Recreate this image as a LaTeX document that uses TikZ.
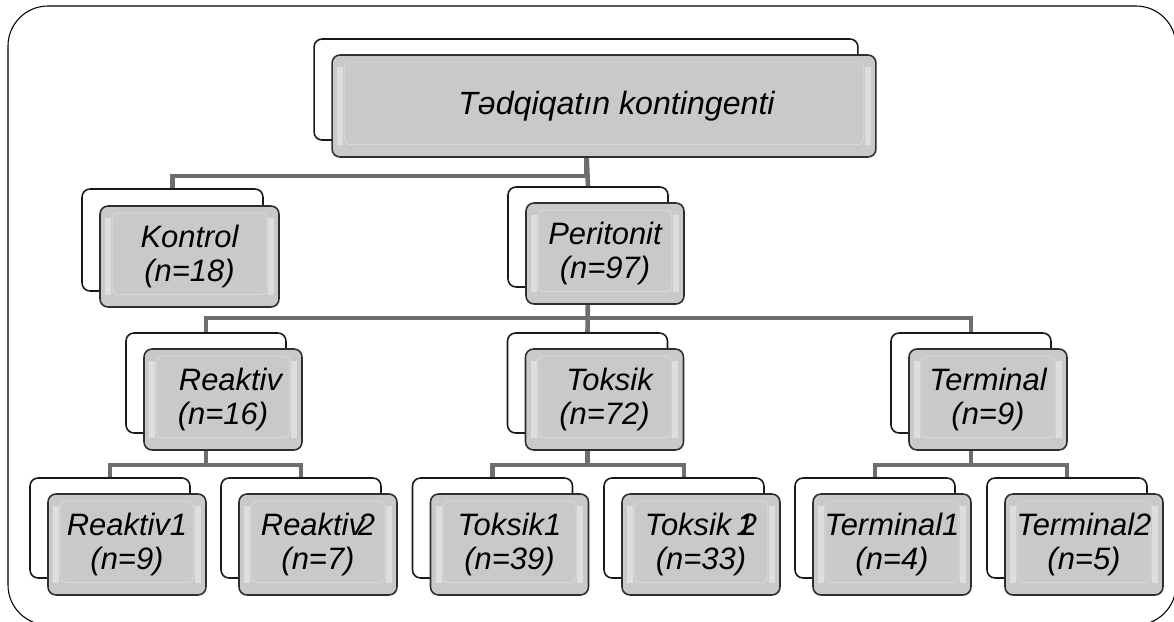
\documentclass[tikz,border=0pt]{standalone}
\usepackage{fontspec}
\setmainfont{Liberation Sans}

\definecolor{boxgray}{HTML}{C9C9C9}
\definecolor{linkgray}{HTML}{6E6E6E}
\definecolor{edgegray}{HTML}{2E2E2E}

\tikzset{
  backbox/.style={draw=black!90, fill=white, line width=0.9pt, rounded corners=0.16cm,
    minimum width=3.2cm, minimum height=2cm, inner sep=0pt},
  frontbox/.style={draw=edgegray, fill=boxgray, line width=0.9pt, rounded corners=0.16cm,
    minimum width=3.16cm, minimum height=2.02cm, inner sep=0pt, align=center,
    font=\fontsize{17.6}{19.8}\selectfont\itshape,
    path picture={
      \fill[white, opacity=.4, sharp corners] ([xshift=3pt,yshift=-7pt]path picture bounding box.north west)
        rectangle ([xshift=6.5pt,yshift=7pt]path picture bounding box.south west);
      \fill[white, opacity=.4, sharp corners] ([xshift=-6.5pt,yshift=-7pt]path picture bounding box.north east)
        rectangle ([xshift=-3pt,yshift=7pt]path picture bounding box.south east);
      \draw[white, opacity=.25, line width=.6pt, rounded corners=3pt] ([xshift=7pt,yshift=-4pt]path picture bounding box.north west)
        rectangle ([xshift=-7pt,yshift=7pt]path picture bounding box.south east);
    }},
  link/.style={draw=linkgray, line width=2.6pt}
}

\begin{document}
\begin{tikzpicture}[x=0.02cm, y=-0.02cm]
\useasboundingbox (0,0) rectangle (1174,622);

% frame
\draw[line width=0.6pt, rounded corners=0.8cm] (8,6) rectangle (1176,625);

% back boxes
\node[backbox, minimum width=10.88cm, minimum height=2.02cm] (topb) at (586,89.5) {}; % Tedqiqat
\node[backbox, minimum width=3.62cm, minimum height=2.04cm] (konb) at (172.5,240) {}; % Kontrol
\node[backbox] (perb) at (588,237) {}; % Peritonit
\node[backbox] (reab) at (206,383) {}; % Reaktiv
\node[backbox] (tokb) at (587.5,383) {}; % Toksik
\node[backbox] (terb) at (971,383) {}; % Terminal
\node[backbox] (rea1b) at (110,528) {};
\node[backbox] (rea2b) at (301,528) {};
\node[backbox] (tok1b) at (492.5,528) {};
\node[backbox] (tok2b) at (684,528) {};
\node[backbox] (ter1b) at (875,528) {};
\node[backbox] (ter2b) at (1067,528) {};

% bus levels
\coordinate (bus1) at (0,176);
\coordinate (bus2) at (0,318);
\coordinate (bus3) at (0,465);

% connectors
\draw[link] (topb.south) -- (topb.south |- bus1) -| (konb.north);
\draw[link] (topb.south) -- (perb.north);
\draw[link] (perb.south) -- (perb.south |- bus2) -| (reab.north);
\draw[link] (perb.south) -- (perb.south |- bus2) -| (terb.north);
\draw[link] (perb.south) -- (tokb.north);
\draw[link] (reab.south) -- (reab.south |- bus3) -| (rea1b.north);
\draw[link] (reab.south) -- (reab.south |- bus3) -| (rea2b.north);
\draw[link] (tokb.south) -- (tokb.south |- bus3) -| (tok1b.north);
\draw[link] (tokb.south) -- (tokb.south |- bus3) -| (tok2b.north);
\draw[link] (terb.south) -- (terb.south |- bus3) -| (ter1b.north);
\draw[link] (terb.south) -- (terb.south |- bus3) -| (ter2b.north);

% front boxes
\node[frontbox, minimum width=10.88cm, minimum height=2.04cm, font=\fontsize{18.3}{20}\selectfont\itshape]
  (topf) at ([shift={(18,16.5)}]topb.center) {\hspace{0.5cm}Tədqiqatın kontingenti};
\node[frontbox, minimum width=3.58cm] (konf) at ([shift={(17,16.5)}]konb.center) {Kontrol\\(n=18)};
\node[frontbox] (perf) at ([shift={(17,16.5)}]perb.center) {Peritonit\\(n=97)};
\node[frontbox] (reaf) at ([shift={(17,16.5)}]reab.center) {\hspace{0.3cm}Reaktiv\\(n=16)};
\node[frontbox] (tokf) at ([shift={(17,16.5)}]tokb.center) {\hspace{0.2cm}Toksik\\(n=72)};
\node[frontbox] (terf) at ([shift={(17,16.5)}]terb.center) {Terminal\\(n=9)};
\node[frontbox] (rea1f) at ([shift={(17,16.5)}]rea1b.center) {Reaktiv1\\(n=9)};
\node[frontbox] (rea2f) at ([shift={(17,16.5)}]rea2b.center) {Reaktiv\kern-.2em2\\(n=7)};
\node[frontbox] (tok1f) at ([shift={(17,16.5)}]tok1b.center) {Toksik1\\(n=39)};
\node[frontbox] (tok2f) at ([shift={(17,16.5)}]tok2b.center) {Toksik\,1\kern-.45em2\\(n=33)};
\node[frontbox] (ter1f) at ([shift={(17,16.5)}]ter1b.center) {Terminal1\\(n=4)};
\node[frontbox] (ter2f) at ([shift={(17,16.5)}]ter2b.center) {Terminal2\\(n=5)};
\end{tikzpicture}
\end{document}
